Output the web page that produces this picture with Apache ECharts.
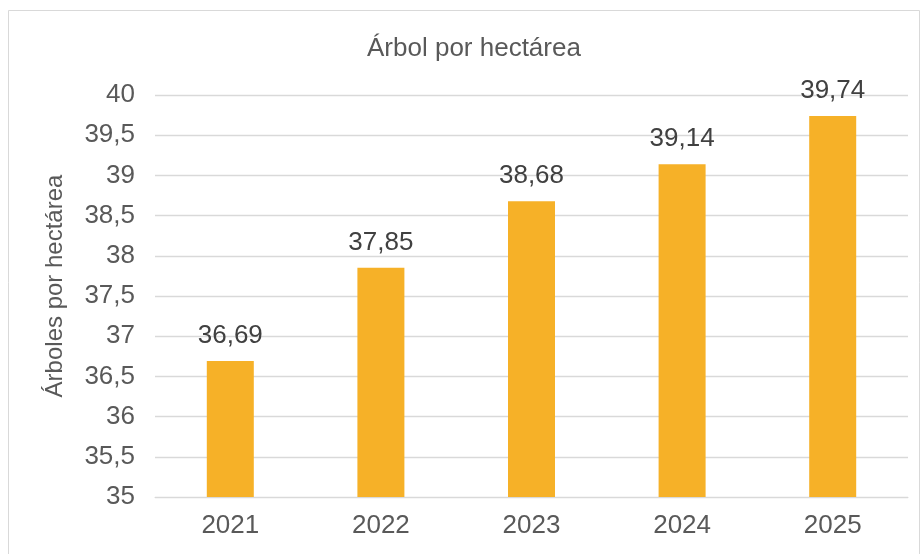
<!DOCTYPE html>
<html><head><meta charset="utf-8">
<script src="https://cdn.jsdelivr.net/npm/echarts@6/dist/echarts.min.js"></script>
<style>html,body{margin:0;padding:0;background:#fff}#c{width:922px;height:554px}</style>
</head><body><div id="c"></div>
<script>
const categories = ['2021','2022','2023','2024','2025'];
const values = [36.69, 37.85, 38.68, 39.14, 39.74];
const chartTitle = 'Árbol por hectárea';
const yAxisName = 'Árboles por hectárea';
const fmt = v => String(v).replace('.', ',');
const FF = 'Liberation Sans, Arial';
const chart = echarts.init(document.getElementById('c'));
chart.setOption({
  animation: false,
  backgroundColor: '#fff',
  graphic: [
    {type:'rect', shape:{x:8.5,y:10.5,width:911,height:560}, style:{fill:'none', stroke:'#d9d9d9', lineWidth:1}, silent:true},
    {type:'text', x:55, y:286, rotation:Math.PI/2, style:{text:yAxisName, fontFamily:FF, fontSize:24, fill:'#595959', textAlign:'center', textVerticalAlign:'middle'}, silent:true}
  ],
  title: {text: chartTitle, left: 362, top: 31, textStyle:{fontFamily:FF, fontSize:26, fontWeight:'normal', color:'#595959'}},
  grid: {left:155, right:14, top:95, bottom:57},
  xAxis: {type:'category', data:categories, axisLine:{lineStyle:{color:'#d9d9d9'}}, axisTick:{show:false},
    axisLabel:{fontFamily:FF, fontSize:26, color:'#595959', margin:16}},
  yAxis: {type:'value', min:35, max:40, interval:0.5,
    axisLine:{show:false}, axisTick:{show:false},
    splitLine:{lineStyle:{color:'#d9d9d9', width:1.3}},
    axisLabel:{fontFamily:FF, fontSize:26, color:'#595959', margin:20, formatter: v => fmt(v)}},
  series: [{type:'bar', data:values, barWidth:47, itemStyle:{color:'#F6B128'},
    label:{show:true, position:'top', distance:12, fontFamily:FF, fontSize:26, color:'#404040', formatter: p => fmt(p.value)}}]
});
</script></body></html>
